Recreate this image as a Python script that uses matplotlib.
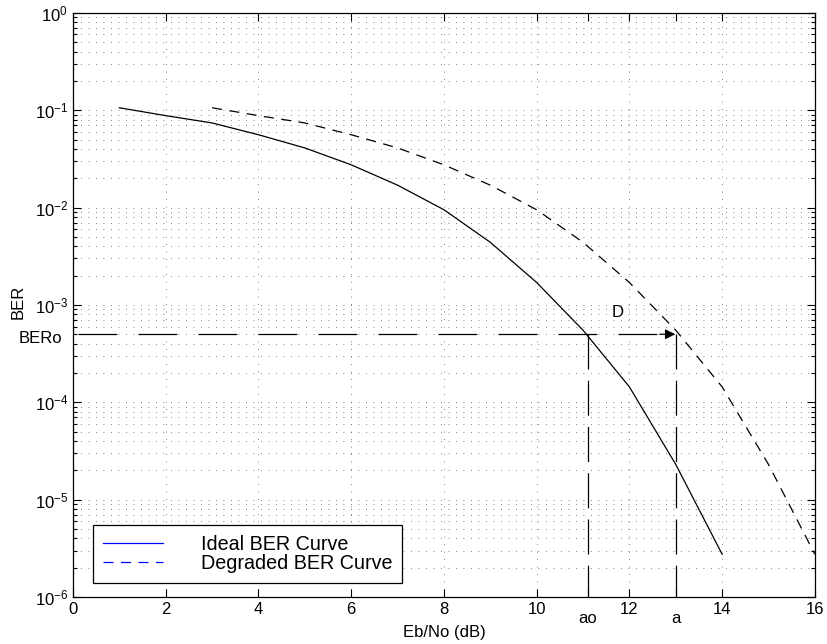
import matplotlib.pyplot as plt
from matplotlib.lines import Line2D
from matplotlib.ticker import LogLocator, NullFormatter, FixedLocator

plt.rcParams['font.family'] = ['Liberation Sans', 'DejaVu Sans']
plt.rcParams['mathtext.fontset'] = 'custom'
plt.rcParams['mathtext.rm'] = 'Liberation Sans'
plt.rcParams['mathtext.it'] = 'Liberation Sans'

# data
ideal_x = [1, 2, 3, 4, 5, 6, 7, 8, 9, 10, 11, 12, 13, 14]
ideal_ber = [0.106, 0.088, 0.074, 0.056, 0.041, 0.0275, 0.017, 0.0095,
             0.0044, 0.0017, 5.5e-4, 1.44e-4, 2.3e-5, 2.75e-6]
deg_x = [3, 4, 5, 6, 7, 8, 9, 10, 11, 12, 13, 14, 15, 16]
deg_ber = [0.106, 0.088, 0.074, 0.056, 0.041, 0.0275, 0.017, 0.0095,
           0.0044, 0.0017, 5.5e-4, 1.44e-4, 2.3e-5, 2.75e-6]
bero = 5e-4
ao = 11.1
a = 13.0

fig = plt.figure(figsize=(8.27, 6.44), dpi=100)
ax = fig.add_axes([0.0883, 0.073, 0.897, 0.907])

ax.plot(ideal_x, ideal_ber, color='k', lw=0.9)
ax.plot(deg_x, deg_ber, color='k', lw=0.9, dashes=(8, 6))

# BERo line with arrow, and the two drop lines
ax.plot([0, a - 0.3], [bero, bero], color='k', lw=0.9, dashes=(0, 4, 31, 13))
ax.annotate('', xy=(a + 0.05, bero), xytext=(a - 0.4, bero),
            arrowprops=dict(arrowstyle='-|>', color='k', lw=0.9,
                            mutation_scale=15))
ax.plot([ao, ao], [bero, 1e-6], color='k', lw=0.9, dashes=(28, 9))
ax.plot([a, a], [bero, 1e-6], color='k', lw=0.9, dashes=(28, 9))

ax.set_yscale('log')
ax.set_xlim(0, 16)
ax.set_ylim(1e-6, 1)
ax.set_xticks(range(0, 17, 2))
ax.xaxis.set_minor_locator(FixedLocator([ao, a]))
ax.xaxis.set_minor_formatter(NullFormatter())
ax.yaxis.set_major_locator(LogLocator(base=10, numticks=10))
ax.yaxis.set_minor_locator(LogLocator(base=10, subs=range(2, 10), numticks=20))
ax.yaxis.set_minor_formatter(NullFormatter())
ax.tick_params(which='both', direction='in', top=True, right=True,
               labelsize=12, width=0.8)
ax.tick_params(which='major', length=6)
ax.tick_params(which='minor', length=3)
ax.tick_params(axis='x', which='minor', length=6)
ax.grid(True, which='major', axis='both', color='0.35', lw=0.6, ls=(0, (1, 8)))
ax.grid(True, which='minor', axis='y', color='0.35', lw=0.6, ls=(0, (1, 8)))
for s in ax.spines.values():
    s.set_linewidth(0.9)

ax.set_xlabel('Eb/No (dB)', fontsize=12, labelpad=6)
fig.text(0.022, 0.532, 'BER', rotation=90, fontsize=12, va='center', ha='center')
ax.annotate('BERo', xy=(0, bero), xycoords=('axes fraction', 'data'),
            xytext=(-8, -3), textcoords='offset points',
            fontsize=12, ha='right', va='center')
ax.text(ao, -0.036, 'ao', transform=ax.get_xaxis_transform(),
        fontsize=12, ha='center', va='center')
ax.text(a, -0.036, 'a', transform=ax.get_xaxis_transform(),
        fontsize=12, ha='center', va='center')
ax.text(11.75, 8.3e-4, 'D', fontsize=12, ha='center', va='center')

handles = [Line2D([], [], color='blue', lw=0.9),
           Line2D([], [], color='blue', lw=0.9, dashes=(8, 6))]
leg = ax.legend(handles, ['Ideal BER Curve', 'Degraded BER Curve'],
                loc='lower left', bbox_to_anchor=(0.027, 0.024),
                fontsize=14.2, fancybox=False, edgecolor='k', framealpha=1,
                handlelength=3.05, handletextpad=1.93, borderpad=0.5,
                labelspacing=0.0, borderaxespad=0)
leg.get_frame().set_linewidth(0.9)

fig.savefig('out.png', dpi=100)
